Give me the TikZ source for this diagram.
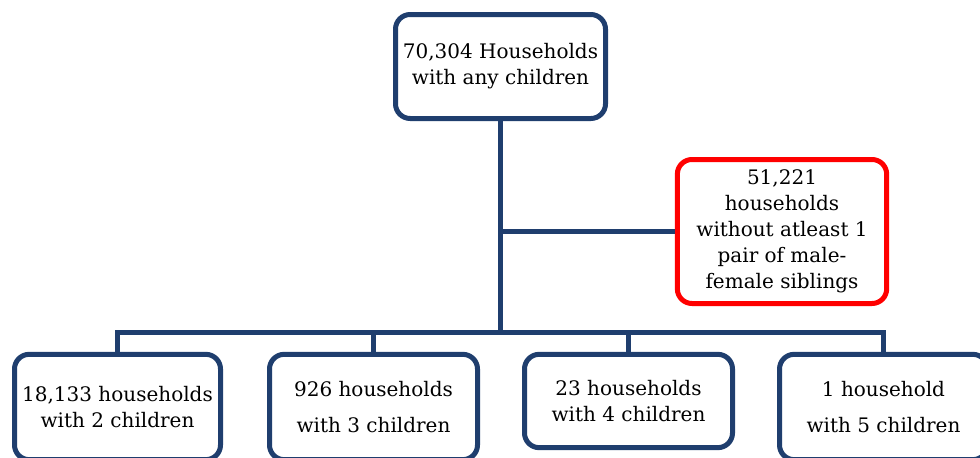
\documentclass[tikz,border=0pt]{standalone}
\usepackage{fontspec}
\setmainfont{DejaVu Serif}
\definecolor{navy}{RGB}{31,62,110}
\definecolor{alertred}{RGB}{255,0,0}
\tikzset{
  box/.style={draw=navy, line width=3.75pt, rounded corners=11pt, fill=white,
    inner sep=0pt, align=center, font=\fontsize{15}{19.5}\selectfont,
    minimum width=156pt, minimum height=78pt},
  redbox/.style={box, draw=alertred},
  link/.style={draw=navy, line width=3.75pt}
}
\begin{document}
\begin{tikzpicture}[x=0.75pt, y=-0.75pt]
\useasboundingbox (0,0) rectangle (980,457);
\clip (0,0) rectangle (980,457);
\coordinate (barL) at (119,332);
\node[box, minimum width=157.5pt, minimum height=78pt] (top) at (500.5,66.5)
  {70,304 Households\\with any children};
\node[redbox, minimum width=157pt, minimum height=108pt] (red) at (782,231.5)
  {51,221\\households\\without atleast 1\\pair of male-\\female siblings};
\node[box, minimum width=154.5pt, minimum height=79pt] (b1) at (117.5,407)
  {18,133 households\\with 2 children};
\node[box, minimum height=79pt] (b2) at (373.5,407)
  {926 households\\[7pt]with 3 children};
\node[box, minimum height=70pt] (b3) at (628.5,401)
  {23 households\\with 4 children};
\node[box, minimum height=79pt] (b4) at (883.5,407)
  {1 household\\[7pt]with 5 children};
\coordinate (bar) at (top.south |- barL);
\path[link] (top.south) -- (bar);
\path[link] (top.south |- red.west) -- (red.west);
\path[link] (b1.north) -- (b1.north |- bar) -- (b4.north |- bar) -- (b4.north);
\path[link] (b2.north |- bar) -- (b2.north);
\path[link] (b3.north |- bar) -- (b3.north);
\end{tikzpicture}
\end{document}
